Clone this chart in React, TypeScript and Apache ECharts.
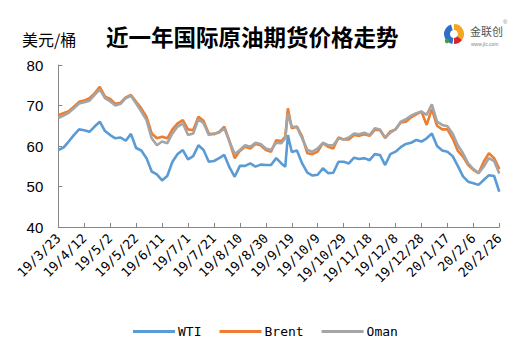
import React, { useEffect, useRef } from "react";
import * as echarts from "echarts";

// Day offsets from 2019-03-23
const days = [0,4,8,12,16,20,24,28,32,36,40,44,48,52,56,60,64,68,72,76,80,84,88,92,96,100,104,108,112,116,120,124,128,132,136,140,144,148,152,156,160,164,168,172,175,177,180,184,188,192,196,200,204,208,212,216,220,224,228,232,236,240,244,248,252,256,260,264,268,272,276,280,284,288,292,296,300,304,308,312,316,320,324,328,332,336,340];

const wti = [59.0,59.6,61.1,62.7,64.1,63.9,63.5,64.8,66.0,63.7,62.7,61.9,62.1,61.3,63.0,59.5,58.9,57.0,53.7,53.0,51.5,52.6,56.1,58.0,59.0,56.7,57.5,60.2,59.0,56.1,56.3,57.0,57.8,54.7,52.4,55.1,55.1,55.7,54.9,55.4,55.3,55.3,57.0,55.7,54.9,62.7,58.5,58.9,55.7,53.4,52.7,52.9,54.5,53.3,53.4,56.1,56.1,55.7,57.1,56.8,57.0,56.5,58.0,57.8,55.3,58.0,58.6,59.7,60.5,60.8,61.5,61.1,61.9,63.1,60.0,58.9,58.6,57.5,55.1,52.5,51.2,50.8,50.4,51.6,52.8,52.6,48.7];

const brent = [67.6,68.1,68.6,69.7,70.9,71.2,71.8,73.0,74.6,72.2,71.6,70.4,70.7,72.0,72.6,70.9,69.3,67.2,63.1,61.9,62.3,61.9,64.1,65.6,66.4,64.1,63.9,67.2,66.2,63.1,62.9,63.5,64.8,61.1,57.0,58.8,59.8,59.4,60.5,60.2,59.0,58.6,61.4,61.2,62.3,69.3,64.4,64.8,62.3,58.2,58.0,58.6,60.7,59.8,59.4,62.1,61.6,61.6,62.7,62.5,62.9,62.5,64.0,63.9,62.0,63.6,64.1,65.8,66.0,67.1,67.8,68.5,65.2,69.1,65.0,64.1,64.1,61.9,58.8,57.4,55.3,54.1,53.3,56.1,58.2,57.0,54.3];

const oman = [66.9,67.5,68.2,69.3,70.5,70.8,71.2,72.6,74.0,71.8,71.0,70.0,70.4,71.8,72.4,70.5,68.5,66.4,61.9,60.2,61.1,60.7,63.1,64.8,65.6,62.7,63.1,66.6,65.6,62.7,63.1,63.3,64.4,61.1,58.0,59.0,60.2,59.8,60.8,60.5,59.4,59.0,60.8,60.7,61.9,68.0,64.8,64.6,61.9,59.0,58.6,59.4,60.8,60.2,60.2,61.9,61.6,62.1,63.1,62.9,63.3,62.7,64.4,64.1,62.0,63.3,64.1,66.0,66.6,67.5,68.1,68.5,67.7,70.3,66.0,65.2,64.9,63.1,60.2,58.2,55.7,54.3,53.3,54.9,57.0,56.3,53.2];

const tickLabels = ['19/3/23','19/4/12','19/5/2','19/5/22','19/6/11','19/7/1','19/7/21','19/8/10','19/8/30','19/9/19','19/10/9','19/10/29','19/11/18','19/12/8','19/12/28','20/1/17','20/2/6','20/2/26'];

const seriesNames = ['WTI', 'Brent', 'Oman'];
const seriesColors = ['#5B9BD5', '#ED7D31', '#A5A5A5'];

export default function App() {
  const ref = useRef<HTMLDivElement>(null);
  useEffect(() => {
    if (!ref.current) return;
    const chart = echarts.init(ref.current, undefined, { renderer: "svg" });
    const values = [wti, brent, oman];
    chart.setOption({
      animation: false,
      backgroundColor: '#fff',
      title: {
        text: '近一年国际原油期货价格走势',
        left: 101,
        top: 20,
        textStyle: { fontSize: 22.5, fontWeight: 'bold', color: '#000', fontFamily: 'Noto Sans CJK SC' },
      },
      legend: {
        data: seriesNames,
        left: 128,
        top: 320,
        itemWidth: 42,
        itemHeight: 3,
        itemGap: 18,
        icon: 'rect',
        textStyle: { fontFamily: 'DejaVu Sans Mono', fontSize: 13, color: '#000', padding: [0, 0, 0, -2] },
      },
      grid: { left: 58.3, right: 32.7, top: 65, bottom: 126 },
      xAxis: {
        type: 'value',
        min: 0,
        max: 340,
        interval: 20,
        splitLine: { show: false },
        axisLine: { show: true, lineStyle: { color: '#868686', width: 1 } },
        axisTick: { show: true, inside: true, length: 4, lineStyle: { color: '#868686' } },
        axisLabel: {
          rotate: 45,
          margin: 9,
          fontFamily: 'DejaVu Sans Mono',
          fontSize: 13,
          color: '#000',
          formatter: (v: number) => tickLabels[Math.round(v / 20)] ?? '',
        },
      },
      yAxis: {
        type: 'value',
        min: 40,
        max: 80,
        interval: 10,
        splitLine: { show: false },
        axisLine: { show: true, lineStyle: { color: '#868686', width: 1 } },
        axisTick: { show: true, inside: true, length: 4, lineStyle: { color: '#868686' } },
        axisLabel: { margin: 15, fontSize: 15, color: '#000', fontFamily: 'Liberation Sans' },
      },
      series: seriesNames.map((name, k) => ({
        name,
        type: 'line',
        showSymbol: false,
        symbol: 'none',
        color: seriesColors[k],
        lineStyle: { width: 2.6, color: seriesColors[k] },
        data: days.map((d, i) => [d, values[k][i]]),
      })),
      graphic: [
        {
          type: 'text',
          x: 22,
          y: 39,
          style: { text: '美元/桶', fill: '#000', font: '16px "Noto Sans CJK SC"', verticalAlign: 'middle' },
        },
        { type: 'sector', shape: { cx: 454, cy: 34, r: 10, r0: 4, startAngle: Math.PI * 0.55, endAngle: Math.PI * 1.4 }, style: { fill: '#2F6FC4' } },
        { type: 'sector', shape: { cx: 454, cy: 34, r: 10, r0: 4, startAngle: -Math.PI * 0.5, endAngle: Math.PI * 0.2 }, style: { fill: '#F5A623' } },
        { type: 'sector', shape: { cx: 454, cy: 34, r: 10, r0: 4, startAngle: Math.PI * 0.2, endAngle: Math.PI * 0.5 }, style: { fill: '#D9232D' } },
        { type: 'circle', shape: { cx: 447, cy: 41, r: 2.2 }, style: { fill: '#3BA146' } },
        { type: 'text', x: 470, y: 31, style: { text: '金联创', fill: '#555', font: '11px "Noto Sans CJK SC"', verticalAlign: 'middle' } },
        { type: 'text', x: 471, y: 44, style: { text: 'www.jlc.com', fill: '#888', font: '5px "Liberation Sans"', verticalAlign: 'middle' } },
        { type: 'text', x: 503, y: 22, style: { text: '®', fill: '#888', font: '6px "Liberation Sans"', verticalAlign: 'middle' } },
      ],
    });
    return () => chart.dispose();
  }, []);
  return (
    <div
      ref={ref}
      style={{ position: 'fixed', left: 0, top: 0, width: 532, height: 353, background: '#fff' }}
    />
  );
}
